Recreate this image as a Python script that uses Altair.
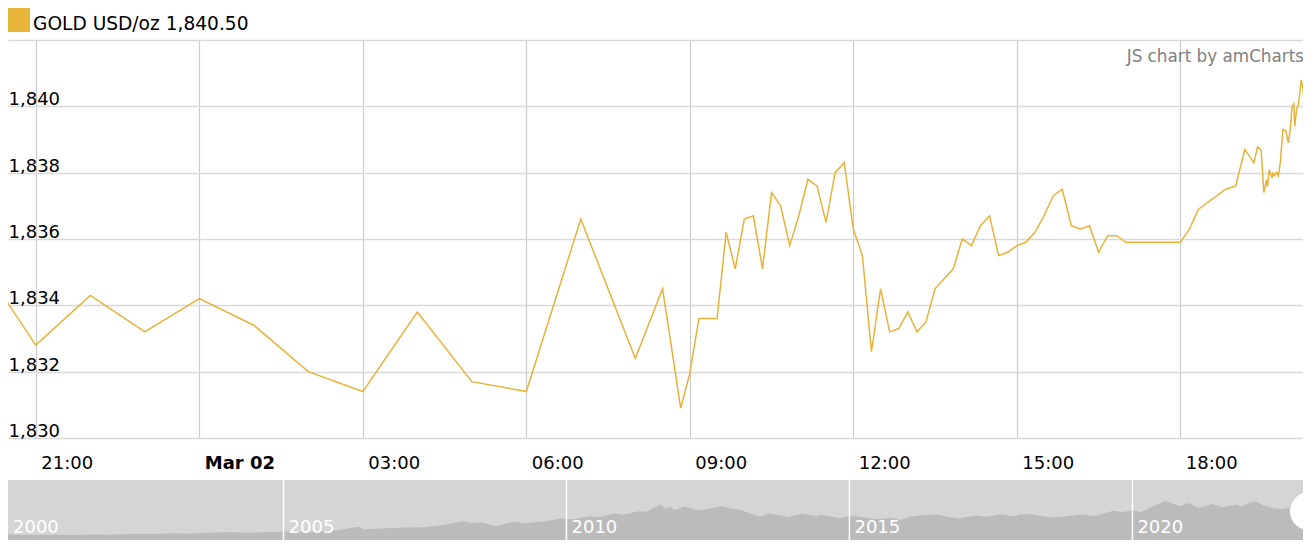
import altair as alt
import pandas as pd

# ---------------- data ----------------
times = [
    "2023-03-01T20:20", "2023-03-01T21:00", "2023-03-01T22:00", "2023-03-01T23:00",
    "2023-03-02T00:00", "2023-03-02T01:00", "2023-03-02T02:00", "2023-03-02T03:00",
    "2023-03-02T04:00", "2023-03-02T05:00", "2023-03-02T06:00", "2023-03-02T07:00",
    "2023-03-02T08:00", "2023-03-02T08:30", "2023-03-02T08:50", "2023-03-02T09:00",
    "2023-03-02T09:10", "2023-03-02T09:30", "2023-03-02T09:40", "2023-03-02T09:50",
    "2023-03-02T10:00", "2023-03-02T10:10", "2023-03-02T10:20", "2023-03-02T10:30",
    "2023-03-02T10:40", "2023-03-02T10:50", "2023-03-02T11:00", "2023-03-02T11:10",
    "2023-03-02T11:20", "2023-03-02T11:30", "2023-03-02T11:40", "2023-03-02T11:50",
    "2023-03-02T12:00", "2023-03-02T12:10", "2023-03-02T12:20", "2023-03-02T12:30",
    "2023-03-02T12:40", "2023-03-02T12:50", "2023-03-02T13:00", "2023-03-02T13:10",
    "2023-03-02T13:20", "2023-03-02T13:30", "2023-03-02T13:40", "2023-03-02T13:50",
    "2023-03-02T14:00", "2023-03-02T14:10", "2023-03-02T14:20", "2023-03-02T14:30",
    "2023-03-02T14:40", "2023-03-02T14:50", "2023-03-02T15:00", "2023-03-02T15:10",
    "2023-03-02T15:20", "2023-03-02T15:30", "2023-03-02T15:40", "2023-03-02T15:50",
    "2023-03-02T16:00", "2023-03-02T16:10", "2023-03-02T16:20", "2023-03-02T16:30",
    "2023-03-02T16:40", "2023-03-02T16:50", "2023-03-02T17:00", "2023-03-02T18:00",
    "2023-03-02T18:10", "2023-03-02T18:20", "2023-03-02T18:50", "2023-03-02T19:01",
    "2023-03-02T19:11", "2023-03-02T19:21", "2023-03-02T19:25", "2023-03-02T19:29",
    "2023-03-02T19:32", "2023-03-02T19:35", "2023-03-02T19:36", "2023-03-02T19:38",
    "2023-03-02T19:41", "2023-03-02T19:42", "2023-03-02T19:44", "2023-03-02T19:46",
    "2023-03-02T19:48", "2023-03-02T19:50", "2023-03-02T19:53", "2023-03-02T19:56",
    "2023-03-02T19:59", "2023-03-02T20:01", "2023-03-02T20:03", "2023-03-02T20:05",
    "2023-03-02T20:06", "2023-03-02T20:08", "2023-03-02T20:10", "2023-03-02T20:12",
    "2023-03-02T20:13", "2023-03-02T20:15", "2023-03-02T20:17", "2023-03-02T20:18",
    "2023-03-02T20:21", "2023-03-02T20:23", "2023-03-02T20:24",
]
prices = [
    1834.45, 1832.80, 1834.30, 1833.20,
    1834.20, 1833.40, 1832.00, 1831.40,
    1833.80, 1831.70, 1831.40, 1836.60,
    1832.40, 1834.50, 1830.90, 1831.95,
    1833.60, 1833.60, 1836.20, 1835.10,
    1836.60, 1836.70, 1835.10, 1837.40,
    1837.00, 1835.80, 1836.70, 1837.80,
    1837.60, 1836.50, 1838.00, 1838.30,
    1836.30, 1835.50, 1832.60, 1834.50,
    1833.20, 1833.30, 1833.80, 1833.20,
    1833.50, 1834.50, 1834.80, 1835.10,
    1836.00, 1835.80, 1836.40, 1836.70,
    1835.50, 1835.60, 1835.80, 1835.90,
    1836.20, 1836.70, 1837.30, 1837.50,
    1836.40, 1836.30, 1836.40, 1835.60,
    1836.10, 1836.10, 1835.90, 1835.90,
    1836.30, 1836.90, 1837.50, 1837.60,
    1838.70, 1838.30, 1838.78, 1838.69,
    1837.40, 1837.79, 1837.58, 1838.09,
    1837.84, 1837.99, 1837.91, 1838.01,
    1837.91, 1838.29, 1839.30, 1839.27,
    1838.90, 1839.30, 1839.99, 1840.08,
    1839.40, 1839.90, 1840.05, 1840.50,
    1840.80, 1840.56, 1839.80, 1840.35,
    1840.86, 1840.35, 1840.50,
]

y_ticks = [1830, 1832, 1834, 1836, 1838, 1840, 1842]
tick_times = [(1, 21), (2, 0), (2, 3), (2, 6), (2, 9), (2, 12), (2, 15), (2, 18)]

nav_dates = [
    "2000-01", "2000-02", "2000-04", "2000-08", "2000-12", "2001-04", "2001-09", "2001-12",
    "2002-02", "2002-06", "2002-09", "2002-12", "2003-02", "2003-04", "2003-09", "2003-12",
    "2004-03", "2004-05", "2004-09", "2004-12", "2005-04", "2005-07", "2005-10", "2005-12",
    "2006-05", "2006-06", "2006-09", "2006-12", "2007-03", "2007-07", "2007-10", "2007-12",
    "2008-03", "2008-05", "2008-07", "2008-10", "2008-12", "2009-02", "2009-04", "2009-09",
    "2009-12", "2010-02", "2010-06", "2010-08", "2010-11", "2011-01", "2011-04", "2011-06",
    "2011-09", "2011-10", "2011-11", "2011-12", "2012-02", "2012-05", "2012-10", "2012-12",
    "2013-02", "2013-04", "2013-06", "2013-08", "2013-12", "2014-03", "2014-06", "2014-07",
    "2014-11", "2015-01", "2015-07", "2015-10", "2015-12", "2016-02", "2016-07", "2016-12",
    "2017-04", "2017-06", "2017-09", "2017-12", "2018-01", "2018-04", "2018-08", "2018-12",
    "2019-02", "2019-05", "2019-09", "2019-11", "2020-01", "2020-03", "2020-05", "2020-08",
    "2020-11", "2021-01", "2021-03", "2021-06", "2021-08", "2021-11", "2021-12", "2022-03",
    "2022-05", "2022-07", "2022-09", "2022-11", "2023-01", "2023-02", "2023-03",
]
nav_prices = [
    290, 300, 280, 275, 272, 260, 290, 278,
    300, 320, 315, 340, 360, 325, 380, 410,
    410, 380, 410, 440, 430, 420, 470, 500,
    700, 570, 600, 630, 660, 670, 760, 830,
    990, 880, 940, 730, 860, 980, 880, 1000,
    1150, 1080, 1250, 1200, 1400, 1330, 1500, 1500,
    1880, 1650, 1760, 1580, 1780, 1550, 1780, 1660,
    1580, 1400, 1220, 1400, 1210, 1380, 1260, 1330,
    1150, 1290, 1090, 1180, 1050, 1240, 1360, 1130,
    1290, 1220, 1340, 1250, 1360, 1340, 1180, 1280,
    1340, 1270, 1540, 1460, 1580, 1470, 1740, 2060,
    1780, 1950, 1690, 1900, 1730, 1860, 1780, 2050,
    1820, 1680, 1630, 1750, 1950, 1810, 1840,
]

year_labels = ["2000", "2005", "2010", "2015", "2020"]

# ---------------- styling ----------------
GOLD = "#E8B23A"
FONT = "DejaVu Sans"
W, H = 1295, 398
NAV_TOP, NAV_BOT = 440, 500

df = pd.DataFrame({"time": pd.to_datetime(times), "price": prices})
nav_df = pd.DataFrame({"date": pd.to_datetime(nav_dates), "price": nav_prices})
sep_df = pd.DataFrame({"date": pd.to_datetime([y + "-01-01" for y in year_labels[1:]])})
year_df = pd.DataFrame({"date": pd.to_datetime([y + "-01-01" for y in year_labels]),
                        "label": year_labels})
one = pd.DataFrame({"k": [0]})

x_domain = [alt.DateTime(year=2023, month=3, date=1, hours=20, minutes=29, seconds=24),
            alt.DateTime(year=2023, month=3, date=2, hours=20, minutes=15, seconds=4)]
x_values = [alt.DateTime(year=2023, month=3, date=d, hours=h) for d, h in tick_times]

line = alt.Chart(df).mark_line(color=GOLD, strokeWidth=1.5, clip=True).encode(
    x=alt.X("time:T", scale=alt.Scale(domain=x_domain),
            axis=alt.Axis(values=x_values,
                          labelExpr="hours(datum.value) == 0 ? timeFormat(datum.value, '%b %d') : timeFormat(datum.value, '%H:%M')",
                          labelAlign="left", labelOffset=5, labelBaseline="middle",
                          labelPadding=25, labelFont=FONT, labelFontSize=18, labelColor="#000000",
                          labelFontWeight={"condition": {"test": "hours(datum.value) == 0", "value": "bold"},
                                           "value": "normal"},
                          labelOverlap=False, labelFlush=False,
                          domain=False, ticks=False, tickSize=0,
                          grid=True, gridColor="#cccccc", gridWidth=1.2, title=None)),
    y=alt.Y("price:Q", scale=alt.Scale(domain=[1830, 1842], nice=False, zero=False),
            axis=alt.Axis(values=y_ticks,
                          labelExpr="datum.value >= 1842 ? '' : format(datum.value, ',')",
                          labelAlign="left", labelBaseline="alphabetic", labelPadding=0,
                          labelOffset=-1.5, labelFont=FONT, labelFontSize=18, labelColor="#000000",
                          labelOverlap=False, labelFlush=False,
                          domain=False, ticks=False, tickSize=0,
                          grid=True, gridColor="#d9d9d9", gridWidth=1.5, title=None)),
)

legend_sq = alt.Chart(one).mark_rect(color="#E9B63C").encode(
    x=alt.value(0), x2=alt.value(22), y=alt.value(-32), y2=alt.value(-8))
legend_txt = alt.Chart(one).mark_text(
    text="GOLD USD/oz 1,840.50", align="left", baseline="middle",
    font=FONT, fontSize=18.6, color="#000000").encode(x=alt.value(25), y=alt.value(-16.5))
watermark = alt.Chart(one).mark_text(
    text="JS chart by amCharts", align="right", baseline="middle",
    font=FONT, fontSize=16.8, color="#808080").encode(x=alt.value(1296), y=alt.value(16.6))

main = alt.layer(line, legend_sq, legend_txt, watermark)

nav_x = alt.Scale(domain=[alt.DateTime(year=2000, month=2, date=19),
                          alt.DateTime(year=2023, month=1, date=6)], clamp=True)
nav_y = alt.Scale(domain=[0, 3165], range=[NAV_BOT, NAV_TOP], nice=False)

nav_bg = alt.Chart(one).mark_rect(color="#d5d5d5").encode(
    x=alt.value(0), x2=alt.value(W), y=alt.value(NAV_TOP), y2=alt.value(NAV_BOT))
nav_area = alt.Chart(nav_df).mark_area(color="#bbbbbb").encode(
    x=alt.X("date:T", scale=nav_x, axis=None),
    y=alt.Y("price:Q", scale=nav_y, axis=None),
    y2=alt.datum(0))
nav_sep = alt.Chart(sep_df).mark_rule(color="#ffffff", strokeWidth=1.5).encode(
    x=alt.X("date:T", scale=nav_x, axis=None),
    y=alt.value(NAV_TOP), y2=alt.value(NAV_BOT))
nav_txt = alt.Chart(year_df).mark_text(
    align="left", baseline="middle", dx=5, font=FONT, fontSize=18, color="#ffffff").encode(
    x=alt.X("date:T", scale=nav_x, axis=None),
    y=alt.value(488), text="label:N")
handle = alt.Chart(one).mark_circle(size=1520, color="#ffffff", opacity=1,
                                    stroke="#c4c4c4", strokeWidth=1).encode(
    x=alt.value(1301), y=alt.value(471))
grip = alt.Chart(one).mark_rule(color="#999999", strokeWidth=1.5).encode(
    x=alt.value(1300), y=alt.value(462), y2=alt.value(480))

nav = alt.layer(nav_bg, nav_area, nav_sep, nav_txt, handle, grip)

chart = alt.layer(main, nav).resolve_scale(x="independent", y="independent").properties(
    width=W, height=H,
    autosize=alt.AutoSizeParams(type="none"),
    padding={"left": 0, "top": 32, "right": 0, "bottom": 102},
    background="#ffffff",
).configure_view(stroke=None)

chart.save("out.html", embed_options={"renderer": "svg", "actions": False})
